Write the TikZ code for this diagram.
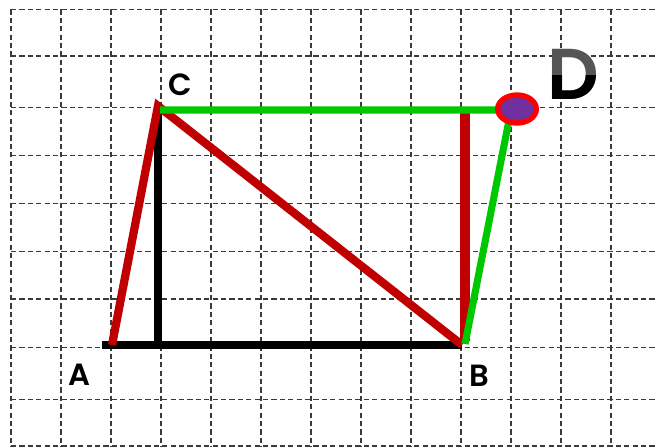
\documentclass[tikz,border=0pt]{standalone}
\usepackage{fontspec}
\setmainfont{Poppins}[BoldFont={* SemiBold}]
\usetikzlibrary{shapes.geometric}
\definecolor{gridc}{HTML}{3A3A3A}
\definecolor{redl}{HTML}{C00000}
\definecolor{greenl}{HTML}{00C800}
\definecolor{purp}{HTML}{7030A0}
\definecolor{redring}{HTML}{FF0000}
\definecolor{dgrey}{HTML}{555555}
\begin{document}
\begin{tikzpicture}[x=0.75pt,y=-0.75pt,
  gridline/.style={draw=gridc,line width=1.05pt,dash pattern=on 3.9pt off 2.4pt},
  blackline/.style={draw=black,line width=6.5pt},
  redline/.style={draw=redl,line width=6.2pt,line join=miter},
  greenline/.style={draw=greenl,line width=5.3pt,line join=miter},
  lab/.style={font=\fontsize{23}{24}\selectfont\bfseries,inner sep=0pt,text=black},
  bigd/.style={font=\fontsize{54}{56}\selectfont\bfseries,inner sep=0pt}]
\useasboundingbox (0,0) rectangle (658,447);
\begin{scope}
\clip (0,0) rectangle (658,447);
\foreach \x in {11,61,...,611} \draw[gridline] (\x,9.3) -- (\x,470);
\foreach \y in {9.3,56,107.7,155.3,203.3,251.7,299,347.7,399.3,446} \draw[gridline] (11,\y) -- (680,\y);
\end{scope}
% points
\coordinate (Al) at (102,345);
\coordinate (A) at (112,345);
\coordinate (B) at (462,345);
\coordinate (C) at (158,106);
\coordinate (Cf) at (158,345);
\coordinate (Ct) at (158,108);
\coordinate (Cg) at (160,110);
\coordinate (Dg) at (511,110);
\coordinate (Bg) at (465,344);
\coordinate (Rt) at (465,113);
\coordinate (Rb) at (465,341);
% black
\draw[blackline] (Al) -- (B);
\draw[blackline] (Cf) -- (Ct);
% red
\draw[redline] (A) -- (C) -- (B);
\draw[redline,line width=7pt] (Rt) -- (Rb);
% green
\draw[greenline] (Cg) -- (Dg) -- (Bg);
% D point
\node[ellipse,draw=redring,fill=purp,line width=4pt,minimum width=29pt,minimum height=21pt,inner sep=0pt] (D) at (517,109) {};
% labels
\node[lab] (labC) at (180,84.5) {C};
\node[lab] (labA) at (79,374.5) {A};
\node[lab] (labB) at (479,376) {B};
\node[bigd,text=dgrey] (labD) at (573.5,74.5) {D};
\begin{scope}
\clip (500,75) rectangle (640,120);
\node[bigd,text=black] (labDd) at (573.5,74.5) {D};
\end{scope}
\end{tikzpicture}
\end{document}
